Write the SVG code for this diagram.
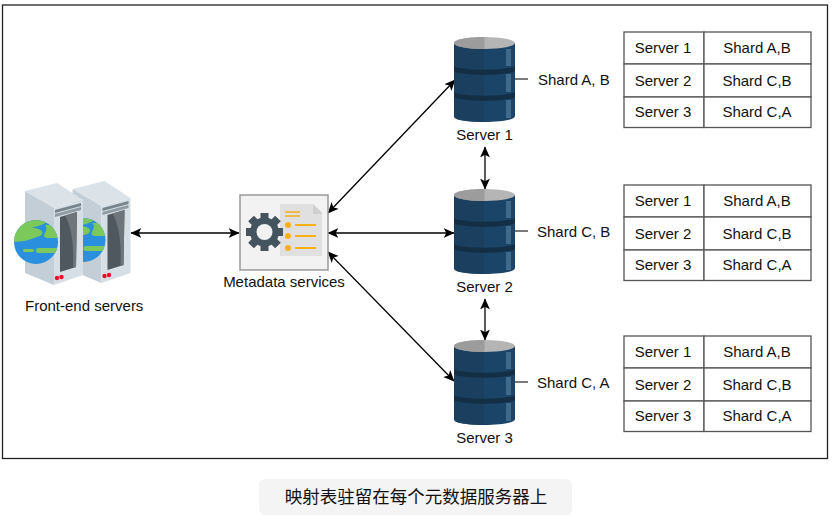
<svg xmlns="http://www.w3.org/2000/svg" width="834" height="520" viewBox="0 0 834 520">
<style>
text{font-family:"Liberation Sans",Arial,sans-serif;font-size:15px;fill:#111}
.m{text-anchor:middle}
.c{stroke:#000;stroke-width:1.300;fill:none;marker-start:url(#a);marker-end:url(#a)}
.cell{fill:#fff;stroke:#555;stroke-width:1.300}
</style>
<defs>
<marker id="a" viewBox="0 0 10 10" refX="9.500" refY="5" markerWidth="11" markerHeight="11" markerUnits="userSpaceOnUse" orient="auto-start-reverse"><path d="M0 .5L10 5L0 9.500L2.500 5Z" fill="#000"/></marker>
<clipPath id="gc"><circle cx="36" cy="242" r="22"/></clipPath>
<g id="tower">
<path d="M25 191L57 183L83 200L54 208Z" fill="#dce3e8"/>
<path d="M25 191L54 208V285L25 273Z" fill="#c3ced6"/>
<path d="M54 208L83 200V275L54 285Z" fill="#d6dfe5"/>
<path d="M55 210L81 203V206L55 213Z" fill="#78848c"/>
<path d="M55 214L81 207V210L55 217Z" fill="#8f9aa2"/>
<path d="M60 217L77 212L76 267L60 272Z" fill="#50585f"/>
<path d="M65 215.500L77 212L76 267L73 268C74 245 72 228 65 215.500Z" fill="#6e767c"/>
<circle cx="57" cy="278" r="2.200" fill="#e8122d"/><circle cx="61.500" cy="277" r="2.200" fill="#e8122d"/>
</g>
<g id="globe">
<circle cx="36" cy="242" r="22" fill="#2a8fdc"/>
<g clip-path="url(#gc)" fill="#7ac95a">
<path d="M14 232C18 222 28 219 40 220H46C48 225 36 226 32 228C40 228 46 232 40 236C32 238 30 241 15 242L13 240Z"/>
<path d="M45 225H56L60 238H46C40 235 50 231 45 225Z"/>
<rect x="36" y="248" width="24" height="5" rx="2.500"/>
<rect x="23" y="249" width="11" height="3" rx="1.500"/>
</g>
</g>
<g id="db">
<path d="M454 43V116C454 120 468 122 484.500 122S515 120 515 116V43Z" fill="#1b4568"/>
<path d="M454 43V116C454 120 462 121 484 122V43Z" fill="#1a3f5f"/>
<ellipse cx="484.500" cy="43" rx="30.500" ry="6" fill="#b5b5b5"/>
<path d="M484.500 37C470 37 454 39 454 43S470 49 484.500 49Z" fill="#9c9c9c"/>
<path d="M454 66C460 71 508 71 515 66V71C508 76 460 76 454 71Z" fill="#132f46"/>
<path d="M454 92C460 97 508 97 515 92V97C508 102 460 102 454 97Z" fill="#132f46"/>
<rect x="506" y="49" width="5" height="17" fill="#3f6a8a"/><rect x="506" y="74" width="5" height="18" fill="#3f6a8a"/><rect x="506" y="100" width="5" height="18" fill="#3f6a8a"/>
<path d="M515 79H528" stroke="#222" stroke-width="1.200"/>
</g>
<g id="tbl">
<rect class="cell" x="624" y="32" width="80" height="32"/><rect class="cell" x="704" y="32" width="107" height="32"/>
<rect class="cell" x="624" y="64" width="80" height="33"/><rect class="cell" x="704" y="64" width="107" height="33"/>
<rect class="cell" x="624" y="97" width="80" height="30.500"/><rect class="cell" x="704" y="97" width="107" height="30.500"/>
<text class="m" x="663" y="53">Server 1</text><text class="m" x="757" y="53">Shard A,B</text>
<text class="m" x="663" y="86">Server 2</text><text class="m" x="757" y="86">Shard C,B</text>
<text class="m" x="663" y="117">Server 3</text><text class="m" x="757" y="117">Shard C,A</text>
</g>
</defs>
<rect width="834" height="520" fill="#fff"/>
<rect x="2.500" y="5" width="825" height="453.500" fill="#fff" stroke="#222" stroke-width="1.300"/>
<g id="connectors">
<path class="c" d="M131 233H239"/>
<path class="c" d="M328 213L455 80"/>
<path class="c" d="M328 233H454"/>
<path class="c" d="M328 252L454 381"/>
<path class="c" d="M485 147V189"/>
<path class="c" d="M485 299V340"/>
</g>
<g id="front-end-servers">
<use href="#tower" x="47.500" y="-2"/><use href="#globe" x="47.500" y="-2"/>
<use href="#tower"/><use href="#globe"/>
<text x="25" y="311">Front-end servers</text>
</g>
<g id="metadata-services">
<rect x="240" y="195" width="88" height="75" fill="#f2f2f2" stroke="#999" stroke-width="1.500"/>
<path d="M280 204H313L322 213V256H280Z" fill="#e0e0e0"/>
<path d="M313 204L322 213V214H313Z" fill="#cfcfcf"/>
<path d="M285 212H300M285 216H300" stroke="#f5ab1d" stroke-width="1.300"/>
<g fill="#fbb116"><circle cx="288" cy="225" r="3"/><circle cx="288" cy="236" r="3"/><circle cx="288" cy="248" r="3"/></g>
<path d="M295 225H316M295 236H316M295 248H316" stroke="#fbb116" stroke-width="1.800"/>
<path d="M264.500 232V213M264.500 232V251M264.500 232H246M264.500 232H283M264.500 232L251 218.500M264.500 232L278 245.500M264.500 232L278 218.500M264.500 232L251 245.500" stroke="#44555f" stroke-width="8" fill="none"/>
<circle cx="264.500" cy="232" r="14.500" fill="#44555f"/><circle cx="264.500" cy="232" r="8" fill="#f2f2f2"/>
<text class="m" x="284" y="287">Metadata services</text>
</g>
<g id="server-1"><use href="#db"/><text class="m" x="484.500" y="140">Server 1</text><text x="538" y="85">Shard A, B</text></g>
<g id="server-2"><use href="#db" y="152"/><text class="m" x="484.500" y="292">Server 2</text><text x="537" y="237">Shard C, B</text></g>
<g id="server-3"><use href="#db" y="303"/><text class="m" x="484.500" y="443">Server 3</text><text x="537" y="388">Shard C, A</text></g>
<g id="table-1"><use href="#tbl"/></g>
<g id="table-2"><use href="#tbl" y="153"/></g>
<g id="table-3"><use href="#tbl" y="304"/></g>
<g id="caption">
<rect x="259" y="479" width="313" height="36" rx="6" fill="#f4f4f4"/>
<text class="m" x="416" y="503" style="font-family:'Noto Sans CJK SC','Liberation Sans',sans-serif;font-size:17.500px">映射表驻留在每个元数据服务器上</text>
</g>
</svg>
